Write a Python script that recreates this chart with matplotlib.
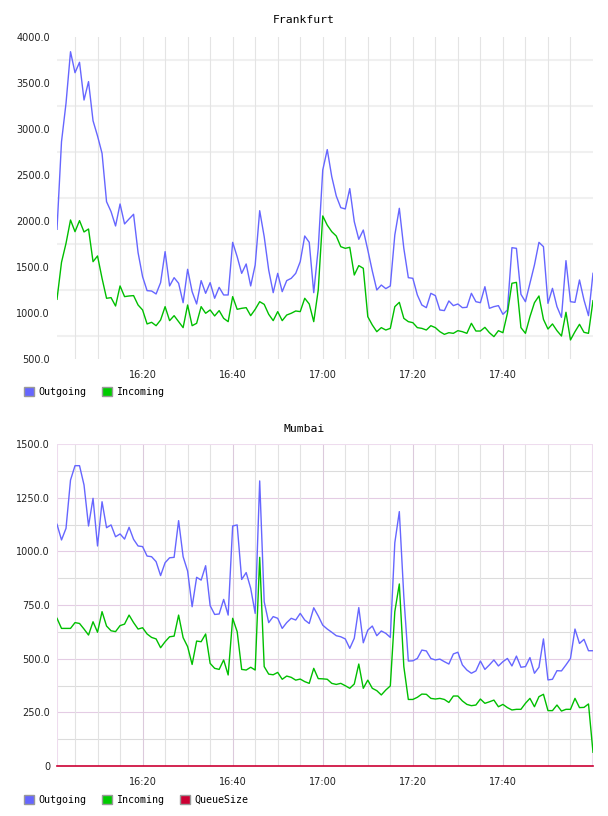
import matplotlib
matplotlib.use('agg')
import matplotlib.pyplot as plt
from matplotlib.patches import Patch
import numpy as np

# minutes after 16:00, one sample per minute (16:01 .. 18:00)
minutes = np.arange(1, 121)
time_ticks = [20, 40, 60, 80, 100]
time_labels = ['16:20', '16:40', '17:00', '17:20', '17:40']

frankfurt_out = [
    1910, 2862, 3279, 3840, 3612, 3725, 3315, 3515, 3090, 2924,
    2736, 2210, 2102, 1946, 2185, 1968, 2022, 2073, 1656, 1395,
    1243, 1239, 1207, 1330, 1667, 1294, 1384, 1323, 1112, 1475,
    1232, 1098, 1352, 1214, 1330, 1160, 1279, 1196, 1196, 1768,
    1612, 1431, 1533, 1294, 1522, 2112, 1830, 1467, 1221, 1431,
    1232, 1352, 1377, 1431, 1558, 1837, 1768, 1221, 1703, 2554,
    2776, 2482, 2272, 2145, 2131, 2352, 1993, 1801, 1902, 1685,
    1457, 1250, 1304, 1265, 1294, 1848, 2138, 1703, 1384, 1377,
    1196, 1087, 1058, 1214, 1189, 1033, 1026, 1131, 1080, 1098,
    1058, 1062, 1214, 1123, 1112, 1286, 1051, 1069, 1080, 986,
    1033, 1710, 1703, 1203, 1123, 1323, 1522, 1768, 1721, 1105,
    1268, 1069, 953, 1569, 1123, 1116, 1359, 1141, 971, 1431,
]
frankfurt_in = [
    1149, 1551, 1757, 2011, 1884, 2004, 1881, 1913, 1558, 1620,
    1377, 1160, 1167, 1076, 1294, 1178, 1185, 1189, 1087, 1033,
    881, 899, 862, 924, 1069, 917, 971, 906, 841, 1087,
    862, 888, 1069, 997, 1033, 968, 1026, 942, 906, 1178,
    1040, 1051, 1058, 971, 1040, 1123, 1094, 986, 917, 1015,
    917, 978, 997, 1022, 1015, 1160, 1098, 906, 1250, 2055,
    1955, 1884, 1837, 1721, 1703, 1714, 1413, 1515, 1486, 960,
    870, 797, 841, 815, 833, 1069, 1116, 942, 906, 895,
    841, 833, 815, 862, 841, 797, 768, 786, 779, 808,
    797, 779, 888, 804, 804, 844, 786, 743, 808, 786,
    997, 1323, 1333, 841, 779, 960, 1112, 1185, 931, 826,
    881, 808, 750, 1008, 707, 797, 877, 790, 779, 1134,
]

mumbai_out = [
    1126, 1053, 1107, 1332, 1399, 1399, 1309, 1118, 1247, 1025,
    1231, 1110, 1123, 1068, 1081, 1057, 1112, 1056, 1025, 1022,
    978, 975, 952, 887, 947, 970, 972, 1143, 975, 908,
    742, 879, 866, 933, 747, 706, 708, 776, 703, 1118,
    1123, 869, 901, 828, 711, 1328, 765, 668, 696, 688,
    641, 668, 688, 680, 711, 680, 664, 737, 699, 656,
    638, 623, 607, 602, 592, 548, 595, 738, 574, 633,
    652, 607, 629, 618, 599, 1040, 1185, 789, 489, 490,
    501, 540, 536, 501, 494, 498, 486, 475, 522, 530,
    471, 447, 432, 443, 489, 450, 471, 494, 466, 486,
    501, 466, 512, 460, 463, 505, 432, 460, 592, 401,
    404, 444, 443, 471, 501, 638, 571, 590, 537, 537,
]
mumbai_in = [
    688, 641, 641, 641, 668, 664, 638, 610, 672, 623,
    719, 652, 630, 626, 654, 661, 703, 668, 638, 644,
    615, 599, 592, 551, 579, 602, 605, 703, 598, 556,
    473, 582, 579, 615, 478, 455, 450, 494, 424, 688,
    626, 450, 447, 460, 447, 972, 463, 428, 425, 436,
    404, 419, 413, 400, 405, 393, 385, 455, 407, 406,
    404, 385, 380, 385, 374, 362, 382, 475, 362, 400,
    362, 351, 331, 354, 373, 719, 848, 463, 310, 310,
    320, 335, 334, 315, 312, 315, 310, 296, 326, 326,
    303, 287, 281, 284, 312, 292, 299, 307, 276, 287,
    272, 261, 264, 264, 292, 315, 276, 323, 334, 258,
    258, 284, 256, 264, 264, 315, 272, 273, 289, 64,
]
mumbai_queue = [0] * 120

blue = '#6666ff'
green = '#00bf00'
red = '#cc0033'

W, H = 608, 816
fig = plt.figure(figsize=(W / 100, H / 100), dpi=100)
fig.patch.set_facecolor('white')

mono = 'DejaVu Sans Mono'


def make_axes(top, bottom):
    ax = fig.add_axes([57 / W, 1 - bottom / H, 536 / W, (bottom - top) / H])
    ax.set_xlim(1, 120)
    ax.set_xticks(time_ticks)
    ax.set_xticklabels(time_labels)
    ax.tick_params(length=0, labelsize=7, colors='#222222')
    ax.tick_params(axis='y', pad=5)
    ax.tick_params(axis='x', pad=8)
    for s in ax.spines.values():
        s.set_visible(False)
    return ax


# ---- Frankfurt ----
ax1 = make_axes(37, 359)
ax1.set_ylim(500, 4000)
ax1.set_yticks(range(500, 4001, 500))
ax1.set_yticklabels([f'{v:.1f}' for v in range(500, 4001, 500)])
for v in range(750, 4000, 500):
    ax1.axhline(v, color='#f0f0f0', lw=1.5, zorder=0)
for m in range(5, 120, 5):
    ax1.axvline(m, color='#e4e4e4', lw=0.8, zorder=0)
ax1.plot(minutes, frankfurt_out, color=blue, lw=1.0)
ax1.plot(minutes, frankfurt_in, color=green, lw=1.0)
fig.text(0.5, 1 - 20 / H, 'Frankfurt', ha='center', va='center',
         fontsize=8.2, family=mono)
fig.legend([Patch(fc=blue, ec='#999999'), Patch(fc='#00cc00', ec='#999999')],
           ['Outgoing', 'Incoming'], loc='center left',
           bbox_to_anchor=(24 / W, 1 - 392 / H), ncol=2, frameon=False,
           handlelength=1.0, handleheight=1.0, handletextpad=0.4,
           columnspacing=1.6, borderpad=0, borderaxespad=0,
           prop={'family': mono, 'size': 7.2})

# ---- Mumbai ----
ax2 = make_axes(444, 766)
ax2.set_ylim(0, 1500)
ax2.set_yticks(range(0, 1501, 250))
ax2.set_yticklabels(['0'] + [f'{v:.1f}' for v in range(250, 1501, 250)])
for v in range(125, 1500, 250):
    ax2.axhline(v, color='#dcdcdc', lw=0.8, zorder=0)
for v in range(250, 1500, 250):
    ax2.axhline(v, color='#e4cce4', lw=0.8, zorder=0)
for m in range(5, 120, 5):
    col = '#dccadc' if m % 20 == 0 else '#e2e2e2'
    ax2.axvline(m, color=col, lw=0.8, zorder=0)
ax2.axhline(1500, color='#eedcee', lw=1.5, zorder=0)
ax2.axvline(1, color='#eedcee', lw=1.5, zorder=0)
ax2.axvline(120, color='#eedcee', lw=1.5, zorder=0)
ax2.plot(minutes, mumbai_out, color=blue, lw=1.0)
ax2.plot(minutes, mumbai_in, color=green, lw=1.0)
ax2.plot(minutes, mumbai_queue, color=red, lw=1.2, clip_on=False)
fig.text(0.5, 1 - 429 / H, 'Mumbai', ha='center', va='center',
         fontsize=8.2, family=mono)
fig.legend([Patch(fc=blue, ec='#999999'), Patch(fc='#00cc00', ec='#999999'),
            Patch(fc=red, ec='#999999')],
           ['Outgoing', 'Incoming', 'QueueSize'], loc='center left',
           bbox_to_anchor=(24 / W, 1 - 800 / H), ncol=3, frameon=False,
           handlelength=1.0, handleheight=1.0, handletextpad=0.4,
           columnspacing=1.6, borderpad=0, borderaxespad=0,
           prop={'family': mono, 'size': 7.2})

fig.savefig('out.png', dpi=100)
